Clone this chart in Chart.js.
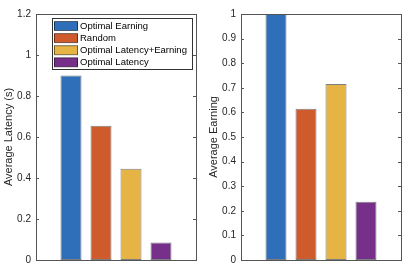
<!DOCTYPE html>
<html lang="en">
<head>
  <meta charset="UTF-8">
  <title>Average Latency and Earning</title>
  <style>
    body, html {
      margin: 0;
      padding: 0;
      background: #fff;
      width: 415px;
      height: 277px;
      overflow: hidden;
    }
    .panel {
      position: absolute;
      top: 0;
      height: 277px;
    }
    #left { left: 0; width: 205px; }
    #right { left: 205px; width: 210px; }
  </style>
</head>
<body>
  <div class="panel" id="left"><canvas id="latencyChart"></canvas></div>
  <div class="panel" id="right"><canvas id="earningChart"></canvas></div>

  <script src="https://cdn.jsdelivr.net/npm/chart.js"></script>
  <script>
    // data
    const methods = ['Optimal Earning', 'Random', 'Optimal Latency+Earning', 'Optimal Latency'];
    const latency = [0.9, 0.655, 0.445, 0.085];
    const earning = [1.0, 0.615, 0.715, 0.237];
    const colors = ['#2f6fb9', '#cf5b2c', '#e5b444', '#77308a'];

    const FONT = '"Liberation Sans", Arial, sans-serif';
    const AXIS = '#555';
    const TEXT = '#262626';

    // matlab style box with inward ticks
    const boxPlugin = {
      id: 'box',
      afterDatasetsDraw(chart) {
        const ctx = chart.ctx;
        const a = chart.chartArea;
        const y = chart.scales.y;
        ctx.save();
        ctx.strokeStyle = AXIS;
        ctx.lineWidth = 1;
        ctx.strokeRect(Math.round(a.left) + 0.5, Math.round(a.top) + 0.5,
          Math.round(a.right - a.left), Math.round(a.bottom - a.top));
        ctx.beginPath();
        y.ticks.forEach(function (t) {
          const py = Math.round(y.getPixelForValue(t.value)) + 0.5;
          ctx.moveTo(a.left, py); ctx.lineTo(a.left + 3, py);
          ctx.moveTo(a.right, py); ctx.lineTo(a.right - 3, py);
        });
        ctx.stroke();
        ctx.restore();
      }
    };

    // legend drawn inside the plot, like the original
    const insideLegend = {
      id: 'insideLegend',
      afterDraw(chart, args, opts) {
        if (!opts.show) return;
        const ctx = chart.ctx;
        const x0 = 52, y0 = 18.5, w = 140, h = 51;
        ctx.save();
        ctx.fillStyle = '#fff';
        ctx.fillRect(x0, y0, w, h);
        ctx.strokeStyle = '#333';
        ctx.lineWidth = 1;
        ctx.strokeRect(x0 + 0.5, y0, w, h);
        ctx.font = '9.5px ' + FONT;
        ctx.textBaseline = 'middle';
        chart.data.datasets.forEach(function (ds, i) {
          const cy = 26 + i * 12.1;
          ctx.fillStyle = ds.backgroundColor;
          ctx.fillRect(54, cy - 4.5, 24, 9);
          ctx.strokeStyle = 'rgba(0,0,0,0.5)';
          ctx.strokeRect(54.5, cy - 4.5, 23, 9);
          ctx.fillStyle = '#000';
          ctx.fillText(ds.label, 80, cy + 0.5);
        });
        ctx.restore();
      }
    };

    function makeChart(id, values, max, step, title, rightPad, showLegend) {
      return new Chart(document.getElementById(id), {
        type: 'bar',
        data: {
          labels: [''],
          datasets: methods.map(function (m, i) {
            return {
              label: m,
              data: [values[i]],
              backgroundColor: colors[i],
              borderColor: 'rgba(20,20,20,0.55)',
              borderWidth: 1,
              borderSkipped: false,
              categoryPercentage: 0.75,
              barPercentage: 0.7
            };
          })
        },
        options: {
          responsive: true,
          maintainAspectRatio: false,
          animation: false,
          layout: { padding: { top: 14, right: rightPad, bottom: 17, left: 0 } },
          plugins: {
            legend: { display: false },
            tooltip: { enabled: false },
            insideLegend: { show: showLegend }
          },
          scales: {
            x: { display: false },
            y: {
              min: 0,
              max: max,
              ticks: {
                stepSize: step,
                padding: 5,
                color: TEXT,
                font: { family: FONT, size: 10 },
                callback: function (v) { return String(Number(v.toFixed(1))); }
              },
              grid: { display: false, drawTicks: false },
              border: { display: false },
              title: {
                display: true,
                text: title,
                color: TEXT,
                padding: { top: 2, bottom: 2 },
                font: { family: FONT, size: 11 }
              },
              afterFit: function (scale) { scale.width = 36; }
            }
          }
        },
        plugins: [boxPlugin, insideLegend]
      });
    }

    makeChart('latencyChart', latency, 1.2, 0.2, 'Average Latency (s)', 9, true);
    makeChart('earningChart', earning, 1, 0.1, 'Average Earning', 14, false);
  </script>
</body>
</html>
